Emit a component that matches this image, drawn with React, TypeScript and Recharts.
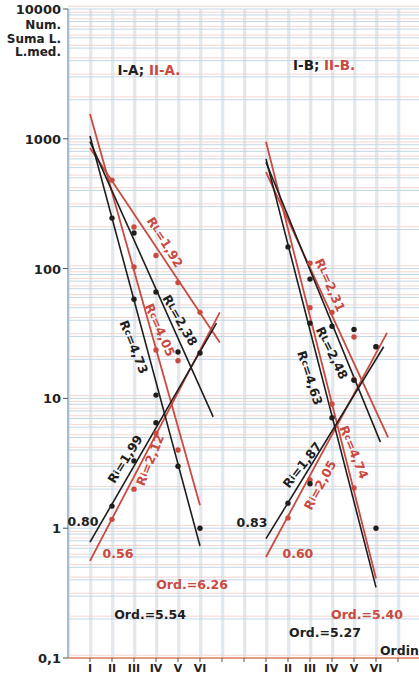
import React from "react"
import { ComposedChart, Line, Scatter, XAxis, YAxis, CartesianGrid } from "recharts"

const ROMAN = ["I", "II", "III", "IV", "V", "VI"]
const POS_A = [1, 2, 3, 4, 5, 6]
const POS_B = [9, 10, 11, 12, 13, 14]
const X_TICKS = [1, 2, 3, 4, 5, 6, 7, 8, 9, 10, 11, 12, 13, 14, 15]
const Y_TICKS = [0.1, 1, 10, 100, 1000, 10000]
const Y_TITLE = ["Num.", "Suma L.", "L.med."]

// fitted lines, endpoints as [order position, value]
const BLACK_LINES = [
  { name: "Rc I-A", pts: [[1, 1050], [6, 0.73]] },
  { name: "RL I-A", pts: [[1, 950], [6.6, 7.2]] },
  { name: "Ri I-A", pts: [[1, 0.78], [6.75, 38]] },
  { name: "Rc I-B", pts: [[9, 700], [14, 0.35]] },
  { name: "RL I-B", pts: [[9, 660], [14.2, 4.6]] },
  { name: "Ri I-B", pts: [[9, 0.83], [14.35, 25]] },
]
const RED_LINES = [
  { name: "Rc II-A", pts: [[1, 1550], [6, 1.5]] },
  { name: "RL II-A", pts: [[1, 850], [6.9, 27]] },
  { name: "Ri II-A", pts: [[1, 0.56], [6.9, 46]] },
  { name: "Rc II-B", pts: [[9, 950], [14, 0.41]] },
  { name: "RL II-B", pts: [[9, 554], [14.55, 5.0]] },
  { name: "Ri II-B", pts: [[9, 0.6], [14.5, 32]] },
]

// observed points
const BLACK_DOTS = [
  [2, 245], [2, 1.48], [3, 188], [3, 58], [3, 3.3], [4, 66], [4, 10.6], [4, 6.5],
  [5, 22.8], [5, 3.0], [6, 22.4], [6, 1.0],
  [10, 147], [10, 1.56], [11, 83], [11, 38], [11, 2.2], [12, 36], [12, 7.1],
  [13, 34], [13, 13.8], [14, 25], [14, 1.0],
]
const RED_DOTS = [
  [2, 480], [2, 1.17], [3, 209], [3, 103], [3, 2.0], [4, 126], [4, 23.6], [4, 5.4],
  [5, 78], [5, 19.5], [5, 4.0], [6, 46],
  [10, 1.2], [11, 110], [11, 50], [11, 2.35], [12, 46], [12, 9.06], [13, 29.7],
  [13, 14], [13, 2.04], [14, 25],
]

const BLACK = "#1e1e1e"
const RED = "#c94a40"

// text annotations: pre, sub, post, x, y, rotation, colour
const LABELS = [
  { pre: "R", sub: "L", post: "=1,92", x: 4.41, y: 160, rot: 58, c: RED },
  { pre: "R", sub: "L", post: "=2,38", x: 5.09, y: 40, rot: 60, c: BLACK },
  { pre: "R", sub: "c", post: "=4,05", x: 4.18, y: 33.7, rot: 66, c: RED },
  { pre: "R", sub: "c", post: "=4,73", x: 3.0, y: 24.9, rot: 68, c: BLACK },
  { pre: "R", sub: "i", post: "=1,99", x: 2.59, y: 3.41, rot: -58, c: BLACK },
  { pre: "R", sub: "i", post: "=2,12", x: 3.73, y: 3.35, rot: -68, c: RED },
  { pre: "0.80", x: 0.68, y: 1.12, rot: 0, c: BLACK },
  { pre: "0.56", x: 2.27, y: 0.644, rot: 0, c: RED },
  { pre: "Ord.=6.26", x: 5.64, y: 0.371, rot: 0, c: RED },
  { pre: "Ord.=5.54", x: 3.73, y: 0.218, rot: 0, c: BLACK },
  { pre: "R", sub: "L", post: "=2,31", x: 11.91, y: 74.8, rot: 66, c: RED },
  { pre: "R", sub: "L", post: "=2,48", x: 12.0, y: 22.4, rot: 64, c: BLACK },
  { pre: "R", sub: "c", post: "=4,63", x: 11.0, y: 14.4, rot: 72, c: BLACK },
  { pre: "R", sub: "c", post: "=4,74", x: 13.0, y: 3.86, rot: 68, c: RED },
  { pre: "R", sub: "i", post: "=1,87", x: 10.64, y: 3.07, rot: -52, c: BLACK },
  { pre: "R", sub: "i", post: "=2,05", x: 11.45, y: 2.15, rot: -62, c: RED },
  { pre: "0.83", x: 8.36, y: 1.1, rot: 0, c: BLACK },
  { pre: "0.60", x: 10.45, y: 0.644, rot: 0, c: RED },
  { pre: "Ord.=5.40", x: 13.59, y: 0.218, rot: 0, c: RED },
  { pre: "Ord.=5.27", x: 11.68, y: 0.156, rot: 0, c: BLACK },
]

const TITLES = [
  { a: "I-A;", b: "II-A.", x: 3.68, y: 3390 },
  { a: "I-B;", b: "II-B.", x: 11.64, y: 3705 },
]

const FONT = "DejaVu Sans, sans-serif"

const gridValues: number[] = []
for (let e = -1; e < 4; e++) {
  for (let k = 1; k < 10; k++) gridValues.push(k * Math.pow(10, e))
}
gridValues.push(10000)
const vertValues = Array.from({ length: 17 }, (_, i) => i)

const toXY = (pts: number[][]) => pts.map(([x, y]) => ({ x, y }))

const romanFor = (v: number) => {
  const a = POS_A.indexOf(v)
  if (a >= 0) return ROMAN[a]
  const b = POS_B.indexOf(v)
  if (b >= 0) return ROMAN[b]
  return ""
}

const YTick = (props: any) => {
  const { x, y, payload } = props
  const v = payload.value
  const label = v === 0.1 ? "0,1" : String(v)
  return (
    <g>
      <text x={x} y={y} dy={5} textAnchor="end" fontFamily={FONT} fontSize={13} fontWeight="bold" fill="#222">
        {label}
      </text>
      {v === 10000 &&
        Y_TITLE.map((t, i) => (
          <text key={t} x={x} y={y + 20 + i * 13.5} textAnchor="end" fontFamily={FONT} fontSize={12} fontWeight="bold" fill="#222">
            {t}
          </text>
        ))}
    </g>
  )
}

const XTick = (props: any) => {
  const { x, y, payload } = props
  return (
    <text x={x} y={y} dy={8} textAnchor="middle" fontFamily={FONT} fontSize={11} fontWeight="bold" fill="#222">
      {romanFor(payload.value)}
    </text>
  )
}

const Dot = (color: string) => (p: any) => <circle cx={p.cx} cy={p.cy} r={2.7} fill={color} />

const LabelMark = (p: any) => {
  const d = p.payload || p
  const { cx, cy } = p
  return (
    <text
      x={cx}
      y={cy}
      transform={d.rot ? `rotate(${d.rot} ${cx} ${cy})` : undefined}
      textAnchor="middle"
      dominantBaseline="central"
      fontFamily={FONT}
      fontSize={12.5}
      fontWeight="bold"
      fill={d.c}
    >
      {d.pre}
      {d.sub && <tspan fontSize={9}>{d.sub}</tspan>}
      {d.post}
    </text>
  )
}

const TitleMark = (p: any) => {
  const d = p.payload || p
  return (
    <text x={p.cx} y={p.cy} textAnchor="middle" dominantBaseline="central" fontFamily={FONT} fontSize={13.5} fontWeight="bold">
      <tspan fill={BLACK}>{d.a} </tspan>
      <tspan fill={RED}>{d.b}</tspan>
    </text>
  )
}

const OrdinMark = (p: any) => (
  <text x={p.cx} y={p.cy} dy={4} textAnchor="start" fontFamily={FONT} fontSize={12.5} fontWeight="bold" fill={BLACK}>
    Ordin
  </text>
)

export default function App() {
  return (
    <div style={{ position: "absolute", left: 0, top: 0, width: 419, height: 674, overflow: "hidden", background: "#fff" }}>
      <ComposedChart width={420} height={674} margin={{ top: 9, right: 0, bottom: 0, left: 0 }}>
        <CartesianGrid horizontalValues={gridValues.map((v) => v * 1.05)} verticalValues={vertValues.map((v) => v + 0.08)} stroke="#f4d6d0" strokeWidth={1} />
        <CartesianGrid horizontalValues={gridValues} verticalValues={vertValues} stroke="#c2d7e4" strokeWidth={1} />
        <XAxis
          type="number"
          dataKey="x"
          domain={[0, 16]}
          allowDataOverflow
          ticks={X_TICKS}
          interval={0}
          height={16}
          tick={<XTick />}
          tickSize={4}
          axisLine={{ stroke: "#e39a86", strokeWidth: 2 }}
          tickLine={{ stroke: "#555" }}
        />
        <YAxis
          type="number"
          dataKey="y"
          scale="log"
          domain={[0.1, 10000]}
          allowDataOverflow
          ticks={Y_TICKS}
          interval={0}
          width={68}
          tick={<YTick />}
          tickSize={5}
          axisLine={{ stroke: "#8fb0c4", strokeWidth: 1.5 }}
          tickLine={{ stroke: "#555" }}
        />
        {RED_LINES.map((l) => (
          <Line key={l.name} data={toXY(l.pts)} dataKey="y" stroke={RED} strokeWidth={1.8} dot={false} isAnimationActive={false} />
        ))}
        {BLACK_LINES.map((l) => (
          <Line key={l.name} data={toXY(l.pts)} dataKey="y" stroke={BLACK} strokeWidth={1.6} dot={false} isAnimationActive={false} />
        ))}
        <Scatter data={toXY(RED_DOTS)} shape={Dot(RED)} isAnimationActive={false} />
        <Scatter data={toXY(BLACK_DOTS)} shape={Dot(BLACK)} isAnimationActive={false} />
        <Scatter data={LABELS} shape={LabelMark} isAnimationActive={false} />
        <Scatter data={TITLES} shape={TitleMark} isAnimationActive={false} />
        <Scatter data={[{ x: 14.18, y: 0.113 }]} shape={OrdinMark} isAnimationActive={false} />
      </ComposedChart>
    </div>
  )
}
